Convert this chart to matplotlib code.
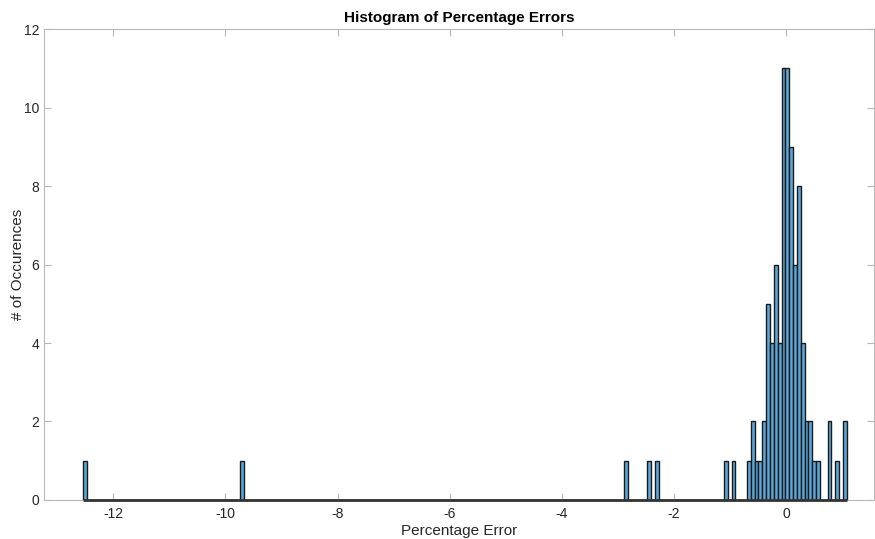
import numpy as np
import matplotlib.pyplot as plt

# =========================
# DATA
# =========================
BIN_START = -12.546      # left edge of first bin
BIN_WIDTH = 0.0685
N_BINS = 199

# index of each non-empty bin and its count
bin_index = [0, 41, 141, 147, 149, 167, 169,
             173, 174, 175, 176, 177, 178, 179, 180, 181, 182,
             183, 184, 185, 186, 187, 188, 189, 190, 191,
             194, 196, 198]
occurrences = [1, 1, 1, 1, 1, 1, 1,
               1, 2, 1, 1, 2, 5, 4, 6, 4, 11,
               11, 9, 6, 8, 4, 2, 2, 1, 1,
               2, 1, 2]

x_ticks = [-12, -10, -8, -6, -4, -2, 0]
y_ticks = [0, 2, 4, 6, 8, 10, 12]

# =========================
# THEME
# =========================
FACE_COLOR = '#5DA6D8'
EDGE_COLOR = '#1a1a1a'
AXIS_COLOR = '#b8b8b8'
TEXT_COLOR = '#262626'

plt.rcParams['font.family'] = ['Liberation Sans', 'DejaVu Sans']
plt.rcParams['axes.unicode_minus'] = False

edges = BIN_START + BIN_WIDTH * np.arange(N_BINS + 1)
counts = np.zeros(N_BINS)
counts[bin_index] = occurrences

fig = plt.figure(figsize=(8.75, 5.39), dpi=100)
ax = fig.add_axes([0.0503, 0.0724, 0.9485, 0.8736])

ax.bar(edges[:-1], counts, width=BIN_WIDTH, align='edge',
       color=FACE_COLOR, edgecolor=EDGE_COLOR, linewidth=1.0, zorder=2)
# empty bins show up as a dark outline along the base
ax.hlines(0, edges[0], edges[-1], color='#333333', linewidth=2.0,
          clip_on=False, zorder=3)

ax.set_xlim(-13.236, 1.57)
ax.set_ylim(0, 12)
ax.set_xticks(x_ticks)
ax.set_yticks(y_ticks)

for side in ['top', 'right', 'left', 'bottom']:
    ax.spines[side].set_color(AXIS_COLOR)
    ax.spines[side].set_linewidth(0.8)

ax.tick_params(axis='both', direction='in', length=5, width=0.8,
               color=AXIS_COLOR, labelcolor=TEXT_COLOR, labelsize=10,
               top=True, right=True)
ax.tick_params(axis='x', pad=5)

ax.set_title('Histogram of Percentage Errors', fontsize=11,
             weight='bold', color='black', pad=5)
ax.set_xlabel('Percentage Error', fontsize=11, color=TEXT_COLOR, labelpad=2)
ax.set_ylabel('# of Occurences', fontsize=11, color=TEXT_COLOR, labelpad=-1)

plt.savefig('out.png', dpi=100)
